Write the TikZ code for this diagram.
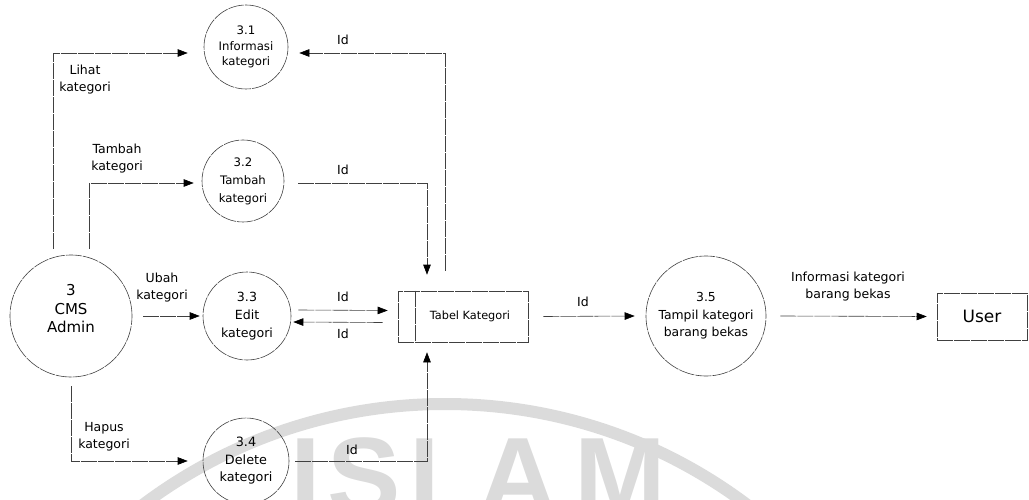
\documentclass[tikz,border=0pt]{standalone}
\usepackage{fontspec}
\setmainfont{DejaVu Sans}
\newfontfamily\wmfont{Liberation Sans}
\usetikzlibrary{arrows.meta,calc}
\newcommand\myfs[2]{\fontsize{#1}{#2}\selectfont}
\begin{document}
\begin{tikzpicture}[x=1pt,y=-1pt,
  ln/.style={draw=black!75, line width=0.6pt, dash pattern=on 16pt off 1pt},
  proc/.style={ln, circle, inner sep=0pt, align=center},
  flow/.style={ln, -{Triangle[length=10pt,width=7.5pt,color=black]}},
  lbl/.style={align=center, inner sep=0pt, font=\myfs{12.5}{17}},
  wm/.style={black!14}
]
\useasboundingbox (0,0) rectangle (1029,500);

% watermark
\begin{scope}
  \clip (0,0) rectangle (1029,500);
  \draw[wm, line width=12pt] (445,907) circle[radius=503];
  \foreach \ch/\xx in {I/306,S/364,L/443,A/518,M/620}
    \node[wm, inner sep=0pt, anchor=base, font=\wmfont\bfseries\fontsize{110}{110}\selectfont] (wm\ch) at (\xx,514) {\ch};
\end{scope}

% processes
\node[proc, minimum size=122pt,
  label={[align=center,font=\myfs{15}{18.5},yshift=7pt]center:{3\\CMS\\Admin}}] (cms) at (71,316) {};
\node[proc, minimum size=84pt, font=\myfs{11.7}{15.5}] (p31) at (246,47) {3.1\\Informasi\\kategori};
\node[proc, minimum size=82pt, font=\myfs{11.7}{18}] (p32) at (243,181) {3.2\\Tambah\\kategori};
\node[proc, minimum size=88pt, font=\myfs{12.6}{18}] (p33) at (247,316) {3.3\\Edit\\kategori};
\node[proc, minimum size=86pt, font=\myfs{12.8}{17.5}] (p34) at (246,461) {3.4\\Delete\\kategori};
\node[proc, minimum size=120pt, font=\myfs{12.4}{17.5}] (p35) at (706,316) {3.5\\Tampil kategori\\barang bekas};

% data store
\node[ln, rectangle, minimum width=130pt, minimum height=51pt, inner sep=0pt,
  label={[font=\myfs{11.3}{13}, xshift=7pt]center:Tabel Kategori}] (tabel) at (463,316.5) {};
\draw[ln] ([xshift=18pt]tabel.north west) -- ([xshift=18pt]tabel.south west);

% external entity
\node[ln, rectangle, minimum width=90pt, minimum height=47pt, inner sep=0pt, font=\myfs{17}{20}] (user) at (982,316.5) {User};

% flows
\draw[flow, shorten >=16pt] ([xshift=-18pt,yshift=6pt]cms.north) |- ([yshift=-6pt]p31.west);
\draw[flow, shorten >=8pt] ([xshift=18pt,yshift=6pt]cms.north) |- ([yshift=-2pt]p32.west);
\draw[flow] ([xshift=14pt,yshift=-2pt]p32.east) -| ([xshift=-36pt,yshift=16pt]tabel.north);
\draw[flow] ([xshift=-18pt,yshift=20pt]tabel.north) |- ([xshift=11pt,yshift=-6pt]p31.east);
\draw[flow, shorten <=11pt, shorten >=3pt] (cms.east) -- (p33.west);
\draw[flow] ([xshift=7pt,yshift=6pt]p33.east) -- ([xshift=-10pt,yshift=6pt]tabel.west);
\draw[flow] ([xshift=-15pt,yshift=-6pt]tabel.west) -- ([xshift=2pt,yshift=-6pt]p33.east);
\draw[flow] ([yshift=-9pt]cms.south) |- ([xshift=-15pt]p34.west);
\draw[flow] ([xshift=6pt]p34.east) -| ([xshift=-36pt,yshift=-10pt]tabel.south);
\draw[flow] ([xshift=15pt]tabel.east) -- ([xshift=-11pt]p35.west);
\draw[flow] ([xshift=14pt]p35.east) -- ([xshift=-10pt]user.west);

% labels
\node[lbl] (lLihat) at (85,80) {Lihat\\kategori};
\node[lbl] (lTambah) at (117,159) {Tambah\\kategori};
\node[lbl] (lId1) at (343,40) {Id};
\node[lbl] (lId2) at (343,170) {Id};
\node[lbl] (lUbah) at (162,288) {Ubah\\kategori};
\node[lbl] (lId3) at (343,297) {Id};
\node[lbl] (lId4) at (343,334) {Id};
\node[lbl] (lHapus) at (104,437) {Hapus\\kategori};
\node[lbl] (lId5) at (352,450) {Id};
\node[lbl] (lId6) at (583,302) {Id};
\node[lbl] (lInfo) at (848,287) {Informasi kategori\\barang bekas};
\end{tikzpicture}
\end{document}
